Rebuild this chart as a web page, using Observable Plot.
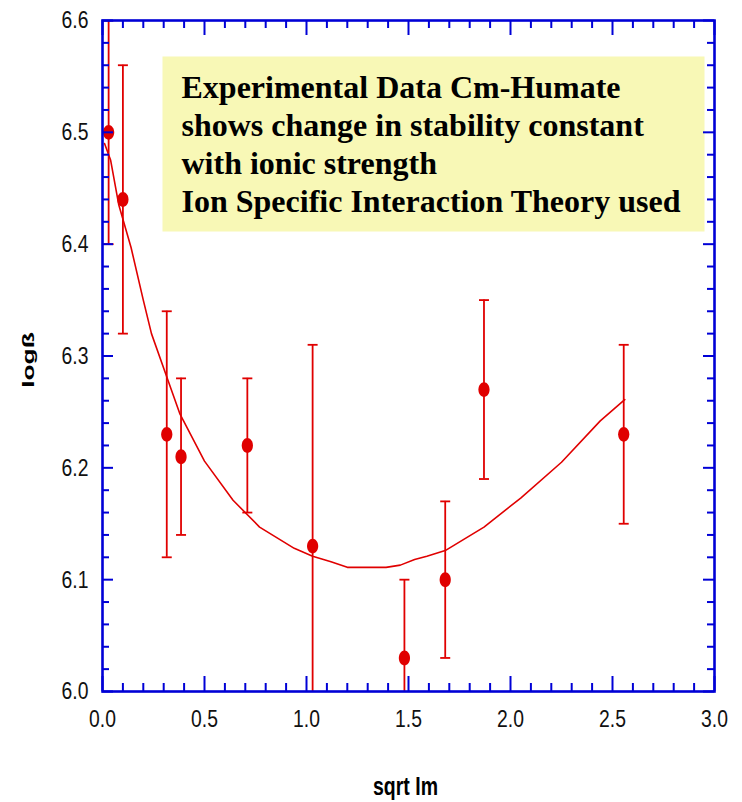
<!DOCTYPE html>
<html>
<head>
<meta charset="utf-8">
<script src="https://cdn.jsdelivr.net/npm/d3@7"></script>
<script src="https://cdn.jsdelivr.net/npm/@observablehq/plot@0.6"></script>
<style>
  body { margin: 0; background: #fff; }
  #chart svg { display: block; }
</style>
</head>
<body>
<div id="chart"></div>
<script>
// Cm-humate stability constants vs. square root of ionic strength
const sqrtIm     = [0.03, 0.10, 0.315, 0.385, 0.71, 1.03, 1.48, 1.68, 1.87, 2.555];
const logBeta    = [6.50, 6.44, 6.23, 6.21, 6.22, 6.13, 6.03, 6.10, 6.27, 6.23];
const logBetaErr = [0.10, 0.12, 0.11, 0.07, 0.06, 0.18, 0.07, 0.07, 0.08, 0.08];

// SIT fit curve
const fitX = [0.01, 0.04, 0.08, 0.14, 0.20, 0.24, 0.31, 0.38, 0.50, 0.64, 0.77, 0.94,
              1.03, 1.12, 1.20, 1.30, 1.39, 1.46, 1.53, 1.59, 1.68, 1.87, 2.05, 2.25, 2.44, 2.56];
const fitY = [6.490, 6.475, 6.435, 6.397, 6.350, 6.320, 6.284, 6.248, 6.206, 6.171, 6.147, 6.128,
              6.121, 6.116, 6.111, 6.111, 6.111, 6.113, 6.118, 6.121, 6.126, 6.147, 6.173, 6.205, 6.242, 6.261];

const noteLines = [
  "Experimental Data Cm-Humate",
  "shows change in stability constant",
  "with ionic strength",
  "Ion Specific Interaction Theory used"
];

const xTitle = "sqrt Im";
const yTitle = "logß";

const xMajor = [0, 0.5, 1.0, 1.5, 2.0, 2.5, 3.0];
const yMajor = [6.0, 6.1, 6.2, 6.3, 6.4, 6.5, 6.6];
const xMinor = d3.range(0, 31).map(i => i / 10).filter(v => !xMajor.some(m => Math.abs(m - v) < 1e-9));
const yMinor = d3.range(0, 31).map(i => 6 + i / 50).filter(v => !yMajor.some(m => Math.abs(m - v) < 1e-9));

const points = sqrtIm.map((x, i) => ({x, y: logBeta[i], lo: logBeta[i] - logBetaErr[i], hi: logBeta[i] + logBetaErr[i]}));
const fit = fitX.map((x, i) => ({x, y: fitY[i]}));

const W = 742, H = 802;
const mL = 102, mR = 28, mT = 20, mB = 111;
const pw = W - mL - mR, ph = H - mT - mB;
const RED = "#e00000", BLUE = "#0000d6";
const sans = "'Liberation Sans', Arial, Helvetica, sans-serif";

// small horizontal bar used as error-bar cap
const capSymbol = {draw(ctx) { ctx.moveTo(-5, 0); ctx.lineTo(5, 0); }};
// upright ellipse marker
const ellipseSymbol = {draw(ctx) {
  const rx = 5.6, ry = 7.4, k = 0.5523;
  ctx.moveTo(0, -ry);
  ctx.bezierCurveTo(k * rx, -ry, rx, -k * ry, rx, 0);
  ctx.bezierCurveTo(rx, k * ry, k * rx, ry, 0, ry);
  ctx.bezierCurveTo(-k * rx, ry, -rx, k * ry, -rx, 0);
  ctx.bezierCurveTo(-rx, -k * ry, -k * rx, -ry, 0, -ry);
  ctx.closePath();
}};

const majorLen = 15, minorLen = 8, yMajorLen = 11, yMinorLen = 7;
const fmt = d3.format(".1f");

const chart = Plot.plot({
  width: W, height: H,
  marginLeft: mL, marginRight: mR, marginTop: mT, marginBottom: mB,
  style: {fontFamily: sans, background: "#fff"},
  x: {domain: [0, 3], label: null},
  y: {domain: [6.0, 6.6], label: null},
  marks: [
    // annotation box
    Plot.frame({fill: "#f8f8b6", stroke: null, insetLeft: 60, insetRight: 10, insetTop: 36, insetBottom: ph - 211}),
    Plot.text([noteLines.join("\n")], {
      text: d => d, frameAnchor: "top-left", textAnchor: "start", dx: 79, dy: 51, lineHeight: 1.18,
      fontFamily: "'Liberation Serif', 'Times New Roman', serif", fontWeight: "bold", fontSize: 32, fill: "#000"
    }),
    // fit curve
    Plot.line(fit, {x: "x", y: "y", stroke: RED, strokeWidth: 1.6, clip: true}),
    // error bars
    Plot.ruleX(points, {x: "x", y1: "lo", y2: "hi", stroke: RED, strokeWidth: 1.8, clip: true}),
    Plot.dot(points, {x: "x", y: "lo", symbol: capSymbol, stroke: RED, strokeWidth: 1.8, fill: null, clip: true}),
    Plot.dot(points, {x: "x", y: "hi", symbol: capSymbol, stroke: RED, strokeWidth: 1.8, fill: null, clip: true}),
    // data points
    Plot.dot(points, {x: "x", y: "y", symbol: ellipseSymbol, fill: RED, stroke: null}),
    // axes (labels only) and inward ticks on all four sides
    Plot.axisX({anchor: "bottom", tickSize: 0, tickPadding: 18, fontSize: 24.5, tickFormat: fmt, ticks: xMajor, label: null, fill: "#111"}),
    Plot.axisY({anchor: "left", tickSize: 0, tickPadding: 14, fontSize: 24.5, tickFormat: fmt, ticks: yMajor, label: null, fill: "#111"}),
    Plot.tickX(xMajor, {x: d => d, insetTop: ph - majorLen, stroke: BLUE, strokeWidth: 2}),
    Plot.tickX(xMinor, {x: d => d, insetTop: ph - minorLen, stroke: BLUE, strokeWidth: 2}),
    Plot.tickX(xMajor, {x: d => d, insetBottom: ph - majorLen, stroke: BLUE, strokeWidth: 2}),
    Plot.tickX(xMinor, {x: d => d, insetBottom: ph - minorLen, stroke: BLUE, strokeWidth: 2}),
    Plot.tickY(yMajor, {y: d => d, insetRight: pw - yMajorLen, stroke: BLUE, strokeWidth: 2}),
    Plot.tickY(yMinor, {y: d => d, insetRight: pw - yMinorLen, stroke: BLUE, strokeWidth: 2}),
    Plot.tickY(yMajor, {y: d => d, insetLeft: pw - yMajorLen, stroke: BLUE, strokeWidth: 2}),
    Plot.tickY(yMinor, {y: d => d, insetLeft: pw - yMinorLen, stroke: BLUE, strokeWidth: 2}),
    Plot.frame({stroke: BLUE, strokeWidth: 2.6}),
    // axis titles
    Plot.text([xTitle], {text: d => d, frameAnchor: "bottom", textAnchor: "middle",
      dx: -3, dy: 103, fontWeight: "bold", fontSize: 25, fill: "#000"}),
    Plot.text([yTitle], {text: d => d, frameAnchor: "left", textAnchor: "middle",
      dx: -74, dy: 4, rotate: -90, fontWeight: "bold", fontSize: 24, fill: "#000"})
  ]
});

// condensed lettering for the Helvetica-style axis text
function squash(el, sx, sy) {
  const t = el.getAttribute("transform");
  if (t) {
    el.setAttribute("transform", `${t} scale(${sx},${sy})`);
  } else {
    const x = +el.getAttribute("x") || 0, y = +el.getAttribute("y") || 0;
    el.removeAttribute("x"); el.removeAttribute("y");
    el.setAttribute("transform", `translate(${x},${y}) scale(${sx},${sy})`);
  }
}
const tickLabels = new Set([...xMajor, ...yMajor].map(fmt));
chart.querySelectorAll("text").forEach(el => {
  if (el.querySelector("tspan")) return;
  const s = el.textContent.trim();
  if (tickLabels.has(s)) squash(el, 0.79, 1);
  else if (s === xTitle) squash(el, 0.78, 1);
  else if (s === yTitle) squash(el, 1.1, 0.68);
});

document.getElementById("chart").appendChild(chart);
</script>
</body>
</html>
